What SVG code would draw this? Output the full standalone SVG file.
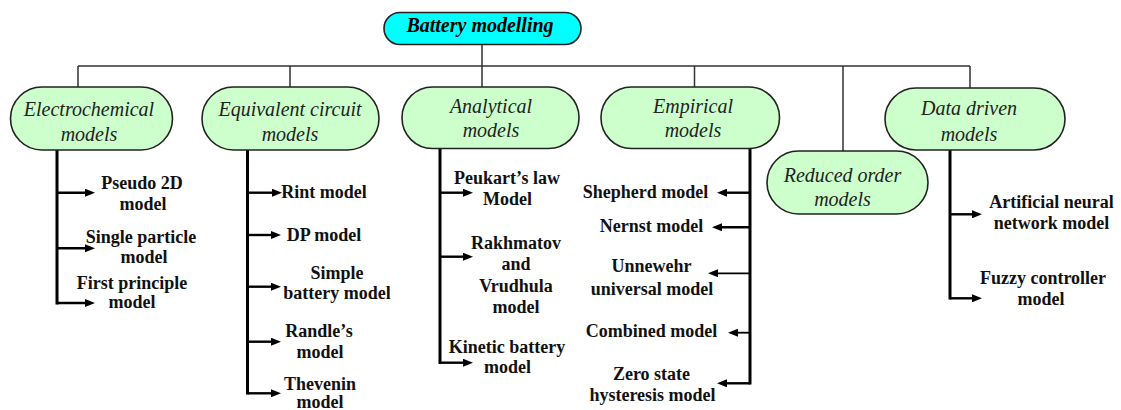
<svg xmlns="http://www.w3.org/2000/svg" width="1121" height="410" viewBox="0 0 1121 410">
<style>
.box{fill:#CCFFCC;stroke:#222;stroke-width:1.6}
.root{fill:#00FFFF;stroke:#222;stroke-width:1.6}
text{font-family:"Liberation Serif","DejaVu Serif","Times New Roman",serif}
.cat{font-style:italic;font-size:20px;fill:#222;text-anchor:middle}
.rt{font-style:italic;font-weight:bold;font-size:20px;fill:#000;text-anchor:middle}
.leaf{font-weight:bold;font-size:18px;fill:#111;text-anchor:middle}
.thin{fill:none;stroke:#333;stroke-width:1.5}
.trunk{fill:none;stroke:#000;stroke-width:3}
.arr{fill:none;stroke:#000;stroke-width:2.4;marker-end:url(#ah)}
.arr2{fill:none;stroke:#000;stroke-width:1.8;marker-end:url(#ah)}
</style>
<defs>
<marker id="ah" viewBox="0 0 10 8" refX="5" refY="4" markerWidth="10" markerHeight="8" markerUnits="userSpaceOnUse" orient="auto">
<path d="M0,0 L10,4 L0,8 z" fill="#000"/>
</marker>
</defs>

<g id="connectors">
<path class="thin" d="M482 44 V87 M78 66 H970 M78 66 V87 M290 66 V87 M694.5 66 V87 M843 66 V151 M970 66 V88"/>
<path class="trunk" d="M57 150 V304.5 M247.5 150 V394.5 M440 148 V364 M750 148 V384.5 M950 150 V299.5"/>
<path class="arr" d="M57 192.7 H90"/>
<path class="arr" d="M57 248.3 H90"/>
<path class="arr" d="M57 303 H90"/>
<path class="arr" d="M247.5 192.7 H277"/>
<path class="arr" d="M247.5 235 H276"/>
<path class="arr" d="M247.5 286.7 H276"/>
<path class="arr" d="M247.5 341.7 H276"/>
<path class="arr" d="M247.5 393.3 H276"/>
<path class="arr" d="M440 192.7 H468"/>
<path class="arr" d="M440 256.7 H468"/>
<path class="arr" d="M440 362.7 H468"/>
<path class="arr" d="M750 192.7 H722"/>
<path class="arr" d="M750 227.3 H717"/>
<path class="arr2" d="M750 273.3 H713"/>
<path class="arr2" d="M750 332.7 H733"/>
<path class="arr" d="M750 383.3 H722"/>
<path class="arr" d="M950 214.3 H977"/>
<path class="arr" d="M950 298.3 H977"/>
</g>

<g id="root">
<rect class="root" x="384" y="12.5" width="197" height="32" rx="16"/>
<text class="rt" x="480" y="32">Battery modelling</text>
</g>

<g id="electrochemical">
<rect class="box" x="10.5" y="87" width="162" height="63" rx="31.5"/>
<text class="cat" x="89" y="116">Electrochemical</text>
<text class="cat" x="89" y="141">models</text>
</g>

<g id="equivalent">
<rect class="box" x="202" y="87" width="177" height="63" rx="31.5"/>
<text class="cat" x="290" y="116">Equivalent circuit</text>
<text class="cat" x="290" y="141">models</text>
</g>

<g id="analytical">
<rect class="box" x="402" y="87" width="177" height="61.5" rx="30.5"/>
<text class="cat" x="491" y="113">Analytical</text>
<text class="cat" x="491" y="137">models</text>
</g>

<g id="empirical">
<rect class="box" x="601" y="87" width="178.5" height="61.5" rx="30.5"/>
<text class="cat" x="693" y="113">Empirical</text>
<text class="cat" x="693" y="137">models</text>
</g>

<g id="reduced">
<rect class="box" x="767" y="151" width="161" height="63" rx="31.5"/>
<text class="cat" x="842.5" y="182">Reduced order</text>
<text class="cat" x="842.5" y="206">models</text>
</g>

<g id="datadriven">
<rect class="box" x="885" y="88" width="180" height="62" rx="31"/>
<text class="cat" x="969" y="115">Data driven</text>
<text class="cat" x="969" y="141">models</text>
</g>

<g id="leaf-pseudo2d"><text class="leaf" x="142" y="189">Pseudo 2D</text><text class="leaf" x="143" y="210">model</text></g>
<g id="leaf-single"><text class="leaf" x="141" y="243">Single particle</text><text class="leaf" x="144" y="263">model</text></g>
<g id="leaf-first"><text class="leaf" x="132" y="289">First principle</text><text class="leaf" x="132" y="308">model</text></g>

<g id="leaf-rint"><text class="leaf" x="324" y="198">Rint model</text></g>
<g id="leaf-dp"><text class="leaf" x="324" y="241">DP model</text></g>
<g id="leaf-simple"><text class="leaf" x="337" y="279">Simple</text><text class="leaf" x="337" y="299">battery model</text></g>
<g id="leaf-randle"><text class="leaf" x="319" y="337">Randle’s</text><text class="leaf" x="320" y="358">model</text></g>
<g id="leaf-thevenin"><text class="leaf" x="320" y="390">Thevenin</text><text class="leaf" x="320" y="408">model</text></g>

<g id="leaf-peukart"><text class="leaf" x="507" y="184">Peukart’s law</text><text class="leaf" x="507.5" y="205">Model</text></g>
<g id="leaf-rakhmatov"><text class="leaf" x="516" y="249">Rakhmatov</text><text class="leaf" x="516" y="270">and</text><text class="leaf" x="516" y="291.5">Vrudhula</text><text class="leaf" x="516" y="313">model</text></g>
<g id="leaf-kinetic"><text class="leaf" x="507" y="353">Kinetic battery</text><text class="leaf" x="507.5" y="373">model</text></g>

<g id="leaf-shepherd"><text class="leaf" x="645.5" y="198">Shepherd model</text></g>
<g id="leaf-nernst"><text class="leaf" x="651.5" y="232">Nernst model</text></g>
<g id="leaf-unnewehr"><text class="leaf" x="651.5" y="272">Unnewehr</text><text class="leaf" x="652" y="295">universal model</text></g>
<g id="leaf-combined"><text class="leaf" x="651.5" y="337">Combined model</text></g>
<g id="leaf-zerostate"><text class="leaf" x="651.5" y="380">Zero state</text><text class="leaf" x="652.5" y="401">hysteresis model</text></g>

<g id="leaf-ann"><text class="leaf" x="1051.5" y="208">Artificial neural</text><text class="leaf" x="1051.5" y="228.5">network model</text></g>
<g id="leaf-fuzzy"><text class="leaf" x="1043" y="283.5">Fuzzy controller</text><text class="leaf" x="1041" y="305">model</text></g>
</svg>
